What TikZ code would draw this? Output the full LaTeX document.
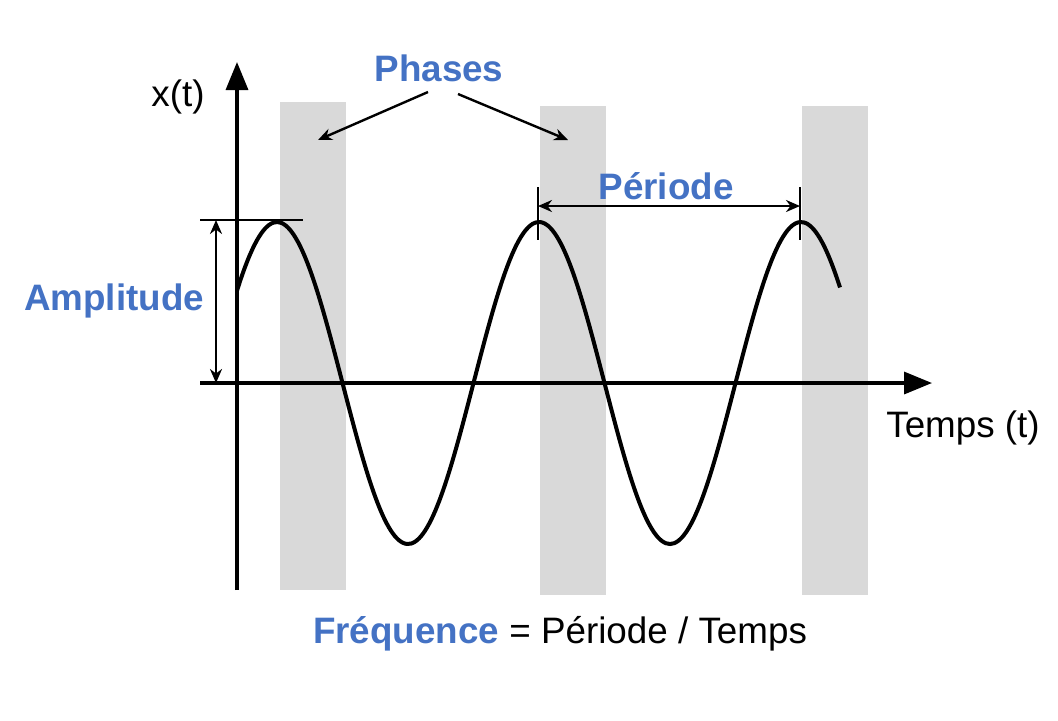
\documentclass[tikz,border=0pt]{standalone}
\usepackage{fontspec}
\setmainfont{Liberation Sans}
\usetikzlibrary{arrows.meta,positioning}
\definecolor{bleu}{RGB}{68,114,196}
\definecolor{gris}{RGB}{217,217,217}

\begin{document}
\begin{tikzpicture}[x=0.5pt,y=-0.5pt,inner sep=0.4mm,
  texte/.style={font=\fontsize{18.4}{20}\selectfont},
  titre/.style={font=\fontsize{18.4}{20}\selectfont\bfseries,text=bleu},
  fleche/.style={line width=1.2pt,{Stealth[length=7pt,width=6pt]}-{Stealth[length=7pt,width=6pt]}},
  axe/.style={line width=1.7pt,-{Triangle[length=14pt,width=11pt]}}]
\useasboundingbox (0,0) rectangle (1058,720);
% bandes grises
\fill[gris] (280,102) rectangle (346,590);
\fill[gris] (540,106) rectangle (606,595);
\fill[gris] (802,106) rectangle (868,595);
% axes
\coordinate (Y0) at (237,590);
\coordinate (Y1) at (237,62);
\coordinate (X0) at (200,383);
\coordinate (X1) at (932,383);
\draw[axe] (Y0) -- (Y1);
\draw[axe] (X0) -- (X1);
% signal
\draw[line width=2pt] plot[smooth,samples=150,domain=237:840] (\x,{383-161*sin(1.37405*(\x-211.5))});
% amplitude
\coordinate (A0) at (200,220);
\coordinate (A1) at (303,220);
\draw[line width=1.2pt] (A0) -- (A1);
\coordinate (B0) at (216,220);
\coordinate (B1) at (216,383);
\draw[fleche] (B0) -- (B1);
% periode
\coordinate (P0) at (538,187);
\coordinate (P1) at (538,240);
\coordinate (Q0) at (800,187);
\coordinate (Q1) at (800,240);
\draw[line width=1.2pt] (P0) -- (P1);
\draw[line width=1.2pt] (Q0) -- (Q1);
\coordinate (P) at (538,206);
\coordinate (Q) at (800,206);
\draw[fleche] (P) -- (Q);
% textes
\node[texte] (xt) at (178,97) {x(t)};
\node[texte] (temps) at (963,428) {Temps (t)};
\node[titre] (phases) at (439,68) {Phases};
\node[titre] (periode) at (666,186) {Période};
\node[titre] (ampl) at (114,301) {Amplitude};
\node[texte] (freq) at (560,634) {\textcolor{bleu}{\bfseries Fréquence} = Période / Temps};
% fleches des phases
\coordinate (F0) at (428,92);
\coordinate (F1) at (318,140);
\coordinate (G0) at (458,94);
\coordinate (G1) at (568,140);
\draw[fleche,-{Stealth[length=7pt,width=6pt]}] (F0) -- (F1);
\draw[fleche,-{Stealth[length=7pt,width=6pt]}] (G0) -- (G1);
\end{tikzpicture}
\end{document}
